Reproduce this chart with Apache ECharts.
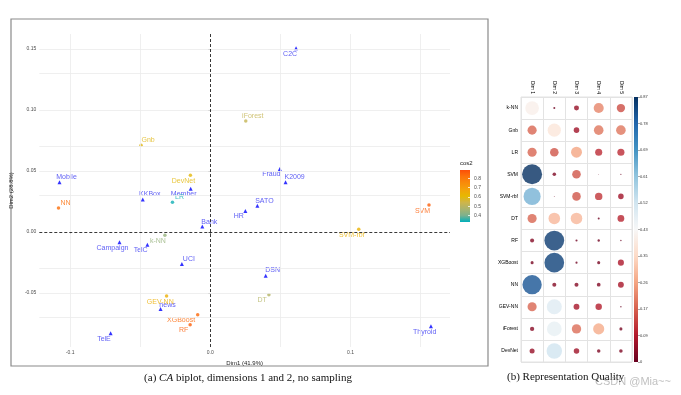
<!DOCTYPE html>
<html><head><meta charset="utf-8">
<script src="https://cdn.jsdelivr.net/npm/echarts@6/dist/echarts.min.js"></script>
<style>html,body{margin:0;padding:0;background:#fff}#c{width:681px;height:395px}</style>
</head><body><div id="c"></div>
<script>
// ---- data: biplot (CA dims 1 & 2) ----
const datasetNames = ['C2C','Mobile','KKBox','Member','Fraud','K2009','SATO','HR','Bank','Campaign','TelC','UCI','DSN','news','TelE','Thyroid'];
const datasetDim1 = [0.0612,-0.1076,-0.0482,-0.0140,0.0496,0.0537,0.0336,0.0250,-0.0057,-0.0648,-0.0449,-0.0203,0.0395,-0.0355,-0.0711,0.1574];
const datasetDim2 = [0.1506,0.0407,0.0267,0.0355,0.0516,0.0407,0.0216,0.0172,0.0044,-0.0085,-0.0104,-0.0262,-0.0358,-0.0631,-0.0830,-0.0773];

const methodNames = ['k-NN','Gnb','LR','SVM','SVM-rbf','DT','RF','XGBoost','NN','GEV-NN','iForest','DevNet'];
const methodDim1 = [-0.0324,-0.0494,-0.0270,0.1560,0.1059,0.0418,-0.0144,-0.0090,-0.1083,-0.0312,0.0253,-0.0142];
const methodDim2 = [-0.0027,0.0711,0.0243,0.0221,0.0022,-0.0514,-0.0760,-0.0678,0.0197,-0.0525,0.0910,0.0465];
const methodCos2 = [0.44,0.59,0.34,0.86,0.63,0.49,0.86,0.84,0.83,0.64,0.52,0.60];

const xTicks = [-0.1,0,0.1];
const yTicks = [-0.05,0,0.05,0.1,0.15];
const cos2Ticks = [0.4,0.5,0.6,0.7,0.8];

// ---- data: representation quality (cos2 per dimension) ----
const dimNames = ['Dim 1','Dim 2','Dim 3','Dim 4','Dim 5'];
const qualDim1 = [0.41,0.18,0.18,0.868,0.64,0.18,0.035,0.02,0.81,0.18,0.04,0.055];
const qualDim2 = [0.009,0.38,0.16,0.027,0.002,0.29,0.85,0.84,0.035,0.49,0.47,0.52];
const qualDim3 = [0.054,0.066,0.26,0.16,0.16,0.29,0.01,0.01,0.035,0.075,0.19,0.065];
const qualDim4 = [0.22,0.20,0.11,0.001,0.12,0.009,0.012,0.02,0.03,0.09,0.27,0.027];
const qualDim5 = [0.15,0.20,0.11,0.003,0.066,0.10,0.004,0.08,0.075,0.004,0.02,0.027];
const qualMax = 0.868;
const qualTicks = [0,0.0868,0.1736,0.2604,0.3472,0.434,0.5208,0.6076,0.6944,0.7812,0.868];

// ---- styles / layout ----
const labelShift = {
 'C2C':[-6,6],'Mobile':[7,-5],'KKBox':[7,-5],'Member':[-7,5],'Fraud':[-8.5,5],'K2009':[9,-5],'SATO':[7,-5],'HR':[-6.6,5],
 'Bank':[7,-5],'Campaign':[-7,6],'TelC':[-6.7,5.3],'UCI':[7,-5],'DSN':[7,-5.4],'news':[7,-4.3],'TelE':[-6.7,5.4],'Thyroid':[-6.3,5.7],
 'k-NN':[-7,5.7],'Gnb':[7,-5],'LR':[7,-5],'SVM':[-6.5,6],'SVM-rbf':[-7,5.4],'DT':[-6.8,5.3],'RF':[-6.5,5.3],'XGBoost':[-16.6,5],
 'NN':[7,-5],'GEV-NN':[-6.3,5.7],'iForest':[7,-5],'DevNet':[-7,6]
};
const gridXLines = [-0.1,-0.05,0.05,0.1,0.15];
const gridYLines = [-0.075,-0.05,-0.025,0.025,0.05,0.075,0.1,0.125,0.15];
// teal -> gold -> orange, with Lab-like intermediate stops
const cos2Colors = ['#00AFBB','#7CB18E','#AAB36E','#CEB54A','#E7B800','#F3A20A','#F88B0A','#FC730A','#FC4E07'];
const rdbu = ['#67001F','#B2182B','#D6604D','#F4A582','#FDDBC7','#F7F7F7','#D1E5F0','#92C5DE','#4393C3','#2166AC','#053061'];
const FONT = 'Liberation Sans';

const chart = echarts.init(document.getElementById('c'), null, {renderer:'canvas'});

const dsData = datasetNames.map((n,i)=>({value:[datasetDim1[i],datasetDim2[i]],name:n,label:{offset:labelShift[n]}}));
const mData = methodNames.map((n,i)=>({value:[methodDim1[i],methodDim2[i],methodCos2[i]],name:n,label:{offset:labelShift[n]}}));
const quals = [qualDim1,qualDim2,qualDim3,qualDim4,qualDim5];
const qData = [];
methodNames.forEach((m,i)=>dimNames.forEach((d,j)=>qData.push([d,m,quals[j][i]])));

const gridLineStyle = {color:'#EBEBEB',width:0.8,type:'solid'};
const markData = gridXLines.map(v=>({xAxis:v,lineStyle:gridLineStyle}))
  .concat(gridYLines.map(v=>({yAxis:v,lineStyle:gridLineStyle})))
  .concat([{xAxis:0,lineStyle:{color:'#222',width:0.9,type:[3,2]}},{yAxis:0,lineStyle:{color:'#222',width:0.9,type:[3,2]}}]);

function grad(cols){
  return new echarts.graphic.LinearGradient(0,1,0,0,cols.map((c,i)=>({offset:i/(cols.length-1),color:c})));
}

const option = {
  animation:false,
  backgroundColor:'#fff',
  grid:[
    {left:37,top:34,width:413,height:313},
    {left:460,top:170,width:10,height:52,show:true,backgroundColor:grad(cos2Colors),borderWidth:0},
    {left:521,top:97,width:111,height:265,show:true,borderColor:'#E3E3E3',borderWidth:1,backgroundColor:'#fff'},
    {left:634,top:97,width:4,height:265,show:true,backgroundColor:grad(rdbu),borderWidth:0}
  ],
  xAxis:[
    {gridIndex:0,type:'value',min:-0.122,max:0.171,axisLine:{show:false},splitLine:{show:false},
     axisTick:{show:true,length:2,lineStyle:{color:'#333',width:0.6},customValues:xTicks},
     axisLabel:{customValues:xTicks,fontSize:5,color:'#4D4D4D',margin:3,fontFamily:FONT,formatter:v=>v.toFixed(1)},
     name:'Dim1 (41.9%)',nameLocation:'middle',nameGap:11,nameTextStyle:{fontSize:6,color:'#222',fontFamily:FONT}},
    {gridIndex:1,type:'category',data:['c'],show:false},
    {gridIndex:2,type:'category',data:dimNames,position:'top',axisLine:{show:false},axisTick:{show:false},
     axisLabel:{rotate:90,fontSize:5,color:'#000',margin:3,fontFamily:FONT},
     splitLine:{show:true,interval:0,lineStyle:{color:'#E3E3E3',width:1}}},
    {gridIndex:3,type:'category',data:['c'],show:false}
  ],
  yAxis:[
    {gridIndex:0,type:'value',min:-0.0943,max:0.1623,axisLine:{show:false},splitLine:{show:false},
     axisTick:{show:true,length:2,lineStyle:{color:'#333',width:0.6},customValues:yTicks},
     axisLabel:{customValues:yTicks,fontSize:5,color:'#4D4D4D',margin:3,fontFamily:FONT,formatter:v=>v.toFixed(2)},
     name:'Dim2 (28.8%)',nameLocation:'middle',nameGap:18,nameRotate:90,nameTextStyle:{fontSize:6,color:'#222',fontFamily:FONT}},
    {gridIndex:1,type:'value',min:0.33,max:0.89,position:'right',axisLine:{show:false},splitLine:{show:false},
     axisTick:{show:true,inside:true,length:2,lineStyle:{color:'#fff',width:0.8},customValues:cos2Ticks},
     axisLabel:{customValues:cos2Ticks,fontSize:5,color:'#4D4D4D',margin:4,fontFamily:FONT,formatter:v=>v.toFixed(1)}},
    {gridIndex:2,type:'category',data:methodNames,inverse:true,axisLine:{show:false},axisTick:{show:false},
     axisLabel:{fontSize:5,color:'#000',margin:3,fontFamily:FONT},
     splitLine:{show:true,interval:0,lineStyle:{color:'#E3E3E3',width:1}}},
    {gridIndex:3,type:'value',min:0,max:qualMax,position:'right',axisLine:{show:false},splitLine:{show:false},
     axisTick:{show:true,length:2,lineStyle:{color:'#555',width:0.5},customValues:qualTicks},
     axisLabel:{customValues:qualTicks,fontSize:4,color:'#333',margin:2,fontFamily:FONT,
       formatter:v=>v===0?'0':(Math.round(v*100)/100).toString()}}
  ],
  visualMap:[
    {type:'continuous',show:false,seriesIndex:2,dimension:2,min:0.33,max:0.89,inRange:{color:cos2Colors}},
    {type:'continuous',show:false,seriesIndex:3,dimension:2,min:0,max:qualMax,inRange:{color:rdbu}}
  ],
  series:[
    {type:'scatter',xAxisIndex:0,yAxisIndex:0,data:[],z:1,silent:true,
     markLine:{symbol:'none',silent:true,label:{show:false},data:markData,animation:false}},
    {type:'scatter',xAxisIndex:0,yAxisIndex:0,symbol:'triangle',symbolSize:4,z:3,
     itemStyle:{color:'#0000FF'},data:dsData,
     label:{show:true,position:'inside',formatter:p=>p.name,fontSize:7,color:'#3535F2',fontFamily:FONT}},
    {type:'scatter',xAxisIndex:0,yAxisIndex:0,symbol:'circle',symbolSize:3.5,z:3,data:mData,
     label:{show:true,position:'inside',formatter:p=>p.name,fontSize:7,color:'inherit',fontFamily:FONT}},
    {type:'scatter',xAxisIndex:2,yAxisIndex:2,data:qData,z:3,
     symbolSize:d=>20*Math.sqrt(Math.max(d[2],0)/qualMax)}
  ],
  graphic:[
    {type:'rect',shape:{x:11,y:19,width:477,height:347},style:{fill:'none',stroke:'#8a8a8a',lineWidth:1.2},silent:true},
    {type:'text',x:460,y:163,style:{text:'cos2',fontSize:6,fill:'#222',fontFamily:FONT,align:'left',verticalAlign:'middle'}},
    {type:'text',x:248,y:378,style:{text:'{a|(a) }{i|CA}{a| biplot, dimensions 1 and 2, no sampling}',align:'center',verticalAlign:'middle',
      rich:{a:{fontSize:11,fontFamily:'Liberation Serif',fill:'#111'},i:{fontSize:11,fontFamily:'Liberation Serif',fontStyle:'italic',fill:'#111'}}}},
    {type:'text',x:507,y:377,style:{text:'(b) Representation Quality',fontSize:11,fontFamily:'Liberation Serif',fill:'#111',align:'left',verticalAlign:'middle'}},
    {type:'text',x:595,y:382,style:{text:'CSDN @Mia~~',fontSize:11,fontFamily:FONT,fill:'rgba(140,140,140,0.55)',align:'left',verticalAlign:'middle'}}
  ]
};
chart.setOption(option);
</script></body></html>
